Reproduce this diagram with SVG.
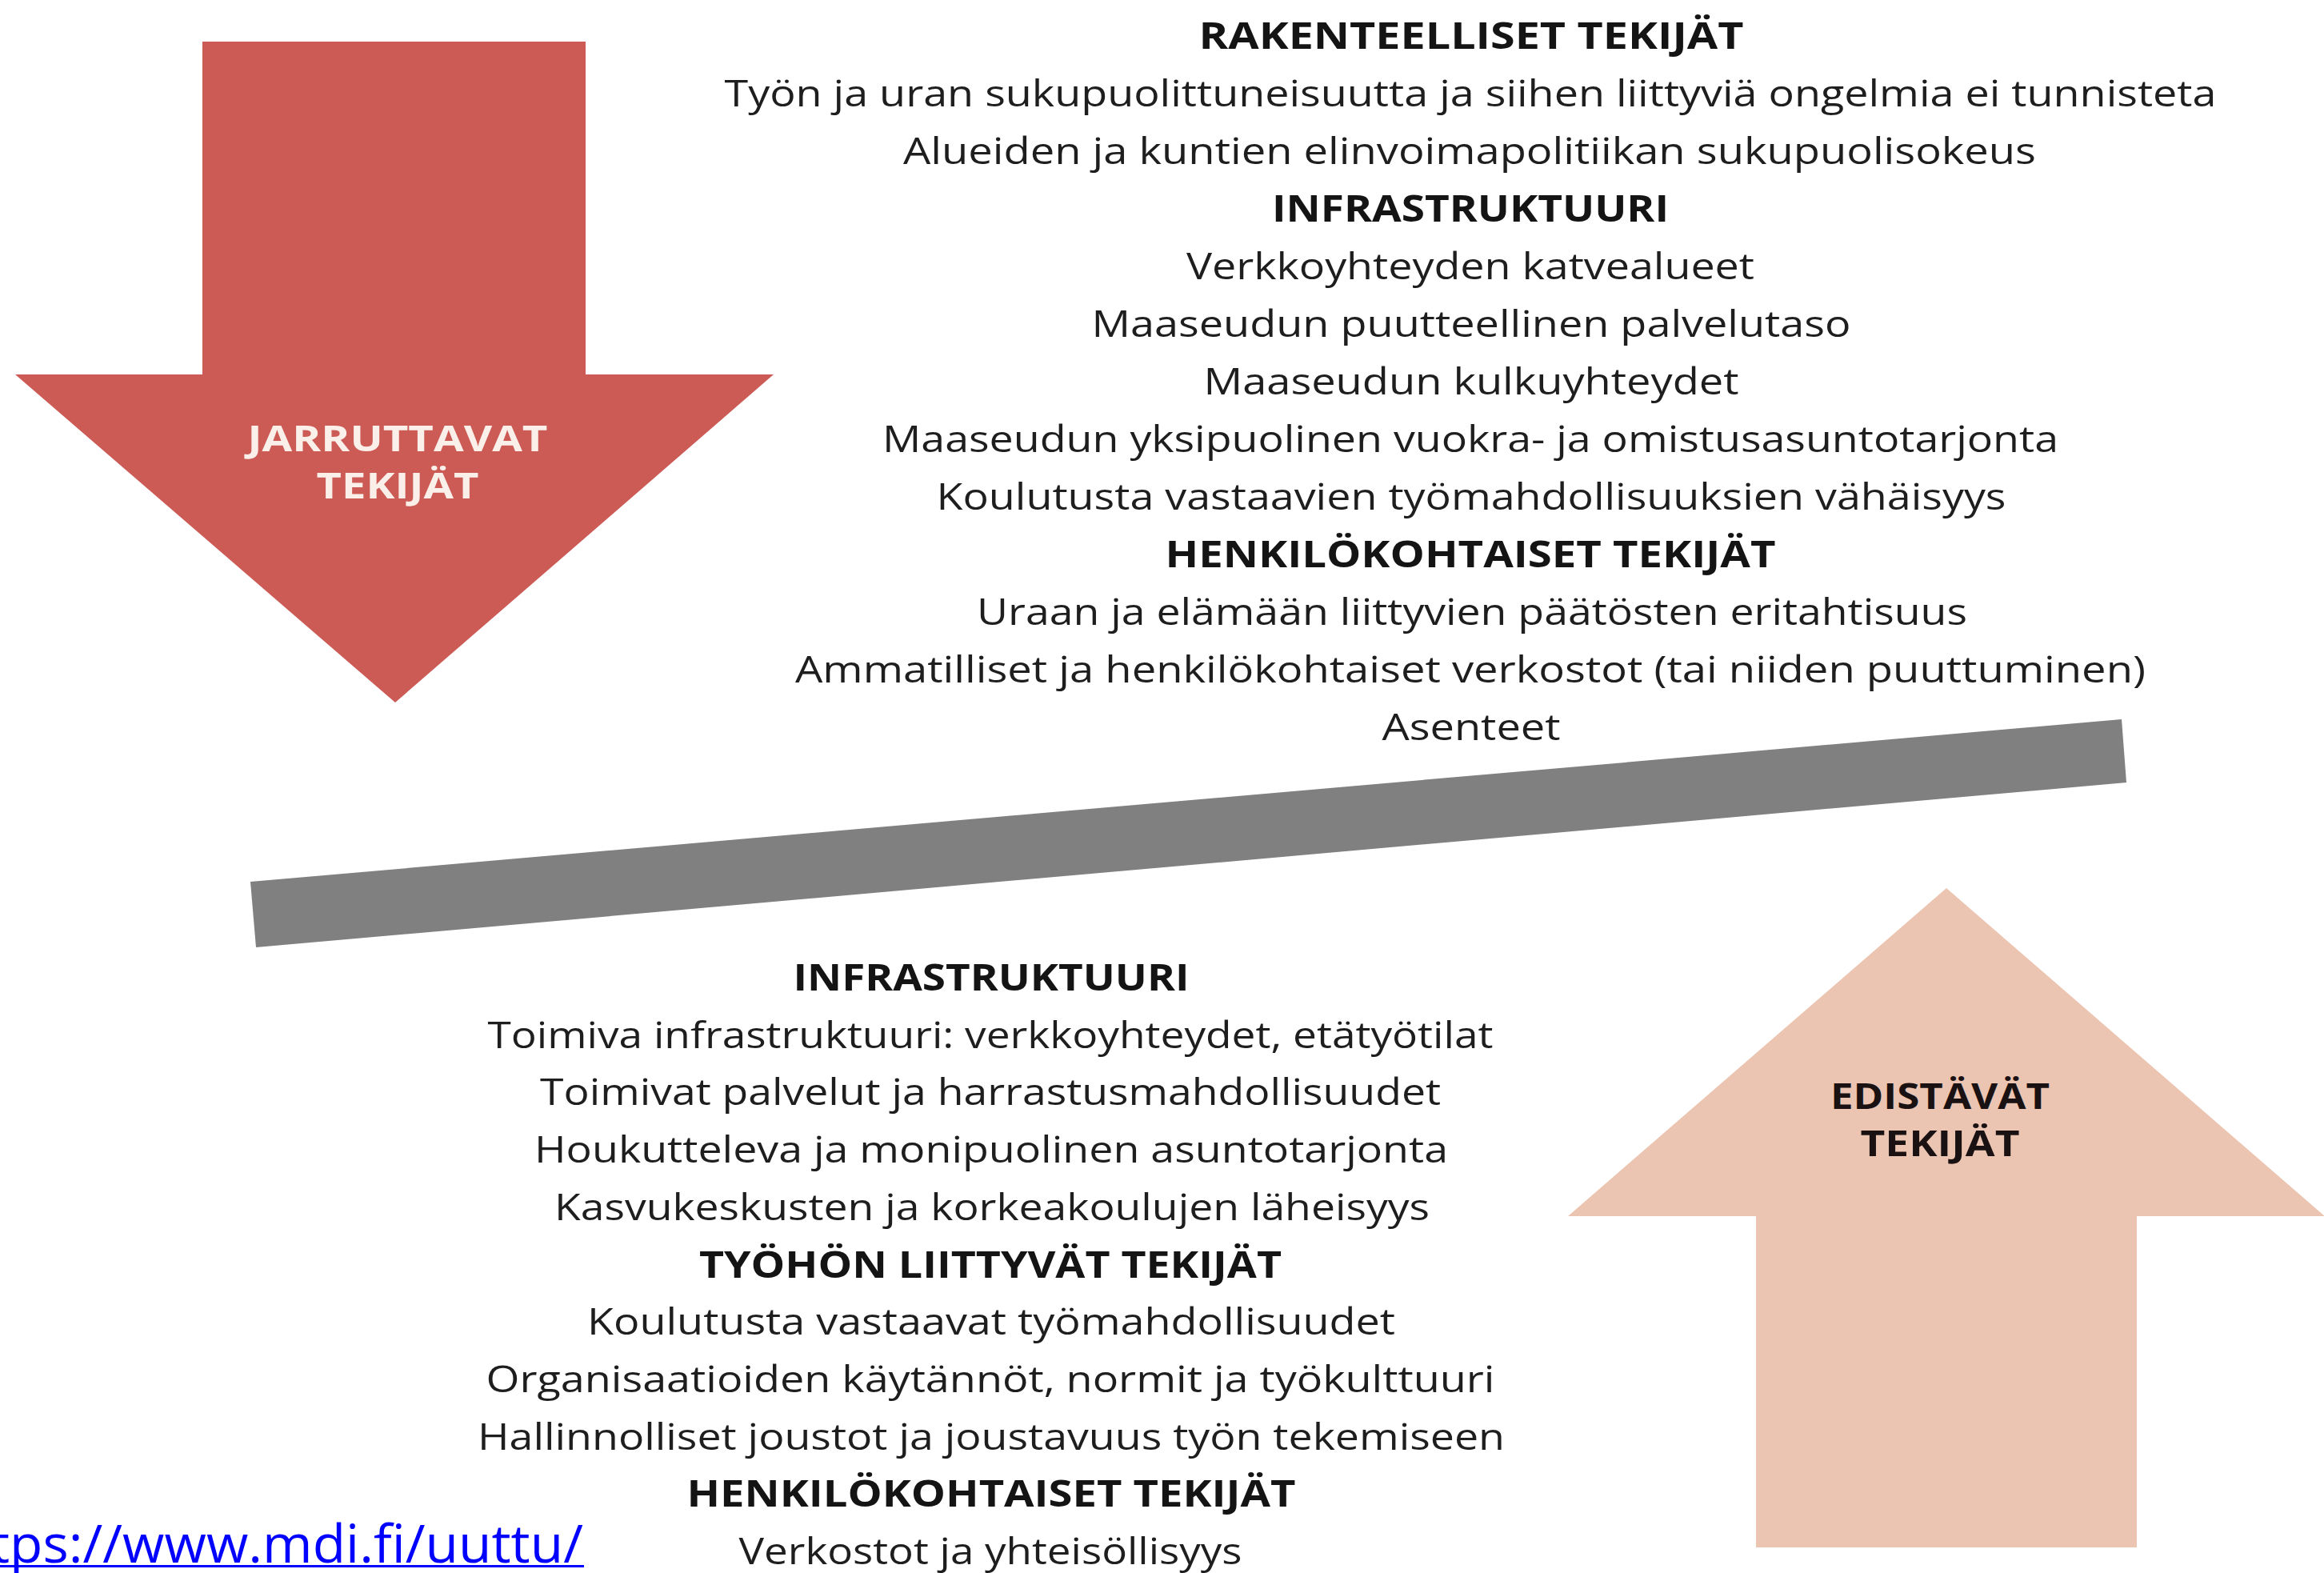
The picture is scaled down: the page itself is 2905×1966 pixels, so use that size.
<svg xmlns="http://www.w3.org/2000/svg" width="2905" height="1966" viewBox="0 0 2905 1966">
  <style>
    .t { font-family: "Open Sans", "Noto Sans", "Liberation Sans", sans-serif; font-size: 46px; fill: #1e1e1e; text-anchor: middle; }
    .h { font-family: "Open Sans", "Noto Sans", "Liberation Sans", sans-serif; font-size: 46px; font-weight: 700; fill: #141414; text-anchor: middle; }
    .lbl { font-family: "Open Sans", "Noto Sans", "Liberation Sans", sans-serif; font-size: 44px; font-weight: 700; text-anchor: middle; }
    .link { font-family: "Open Sans", "Noto Sans", "Liberation Sans", sans-serif; font-size: 66px; fill: #0000ff; }
  </style>
  <rect width="2905" height="1966" fill="#ffffff"/>

  <g id="arrow-down">
    <polygon points="253,52 732,52 732,468 967,468 494,878 19,468 253,468" fill="#cc5b56"/>
    <text class="lbl" fill="#fbefea" x="497" y="564" textLength="375" lengthAdjust="spacingAndGlyphs">JARRUTTAVAT</text>
    <text class="lbl" fill="#fbefea" x="497" y="623" textLength="203" lengthAdjust="spacingAndGlyphs">TEKIJÄT</text>
  </g>

  <g id="arrow-up">
    <polygon points="2433,1110 2906,1520 2671,1520 2671,1934 2195,1934 2195,1520 1960,1520" fill="#ecc5b2"/>
    <text class="lbl" fill="#1a1212" x="2425" y="1386" textLength="274" lengthAdjust="spacingAndGlyphs">EDISTÄVÄT</text>
    <text class="lbl" fill="#1a1212" x="2425" y="1445" textLength="199" lengthAdjust="spacingAndGlyphs">TEKIJÄT</text>
  </g>

  <g id="connectors">
    <polygon id="balance-bar" points="313,1102 2652,899 2658,978 320,1184" fill="#808080"/>
  </g>

  <g id="hindering-factors">
    <text class="h" x="1839" y="61" textLength="681" lengthAdjust="spacingAndGlyphs">RAKENTEELLISET TEKIJÄT</text>
    <text class="t" x="1838" y="133" textLength="1865" lengthAdjust="spacingAndGlyphs">Työn ja uran sukupuolittuneisuutta ja siihen liittyviä ongelmia ei tunnisteta</text>
    <text class="t" x="1837" y="205" textLength="1416" lengthAdjust="spacingAndGlyphs">Alueiden ja kuntien elinvoimapolitiikan sukupuolisokeus</text>
    <text class="h" x="1838" y="277" textLength="496" lengthAdjust="spacingAndGlyphs">INFRASTRUKTUURI</text>
    <text class="t" x="1838" y="349" textLength="710" lengthAdjust="spacingAndGlyphs">Verkkoyhteyden katvealueet</text>
    <text class="t" x="1839" y="421" textLength="949" lengthAdjust="spacingAndGlyphs">Maaseudun puutteellinen palvelutaso</text>
    <text class="t" x="1839" y="493" textLength="669" lengthAdjust="spacingAndGlyphs">Maaseudun kulkuyhteydet</text>
    <text class="t" x="1838" y="565" textLength="1470" lengthAdjust="spacingAndGlyphs">Maaseudun yksipuolinen vuokra- ja omistusasuntotarjonta</text>
    <text class="t" x="1839" y="637" textLength="1337" lengthAdjust="spacingAndGlyphs">Koulutusta vastaavien työmahdollisuuksien vähäisyys</text>
    <text class="h" x="1838" y="709" textLength="763" lengthAdjust="spacingAndGlyphs">HENKILÖKOHTAISET TEKIJÄT</text>
    <text class="t" x="1840" y="781" textLength="1238" lengthAdjust="spacingAndGlyphs">Uraan ja elämään liittyvien päätösten eritahtisuus</text>
    <text class="t" x="1838" y="853" textLength="1688" lengthAdjust="spacingAndGlyphs">Ammatilliset ja henkilökohtaiset verkostot (tai niiden puuttuminen)</text>
    <text class="t" x="1839" y="925" textLength="223" lengthAdjust="spacingAndGlyphs">Asenteet</text>
  </g>

  <g id="promoting-factors">
    <text class="h" x="1239" y="1238" textLength="495" lengthAdjust="spacingAndGlyphs">INFRASTRUKTUURI</text>
    <text class="t" x="1238" y="1310" textLength="1257" lengthAdjust="spacingAndGlyphs">Toimiva infrastruktuuri: verkkoyhteydet, etätyötilat</text>
    <text class="t" x="1238" y="1381" textLength="1126" lengthAdjust="spacingAndGlyphs">Toimivat palvelut ja harrastusmahdollisuudet</text>
    <text class="t" x="1239" y="1453" textLength="1142" lengthAdjust="spacingAndGlyphs">Houkutteleva ja monipuolinen asuntotarjonta</text>
    <text class="t" x="1240" y="1525" textLength="1094" lengthAdjust="spacingAndGlyphs">Kasvukeskusten ja korkeakoulujen läheisyys</text>
    <text class="h" x="1238" y="1597" textLength="728" lengthAdjust="spacingAndGlyphs">TYÖHÖN LIITTYVÄT TEKIJÄT</text>
    <text class="t" x="1239" y="1668" textLength="1010" lengthAdjust="spacingAndGlyphs">Koulutusta vastaavat työmahdollisuudet</text>
    <text class="t" x="1238" y="1740" textLength="1261" lengthAdjust="spacingAndGlyphs">Organisaatioiden käytännöt, normit ja työkulttuuri</text>
    <text class="t" x="1239" y="1812" textLength="1284" lengthAdjust="spacingAndGlyphs">Hallinnolliset joustot ja joustavuus työn tekemiseen</text>
    <text class="h" x="1239" y="1883" textLength="761" lengthAdjust="spacingAndGlyphs">HENKILÖKOHTAISET TEKIJÄT</text>
    <text class="t" x="1238" y="1955" textLength="629" lengthAdjust="spacingAndGlyphs">Verkostot ja yhteisöllisyys</text>
  </g>

  <g id="source-link">
    <text class="link" x="-12" y="1953" textLength="741" lengthAdjust="spacingAndGlyphs">tps://www.mdi.fi/uuttu/</text>
    <rect x="0" y="1956" width="730" height="3" fill="#0000ff"/>
  </g>
</svg>
